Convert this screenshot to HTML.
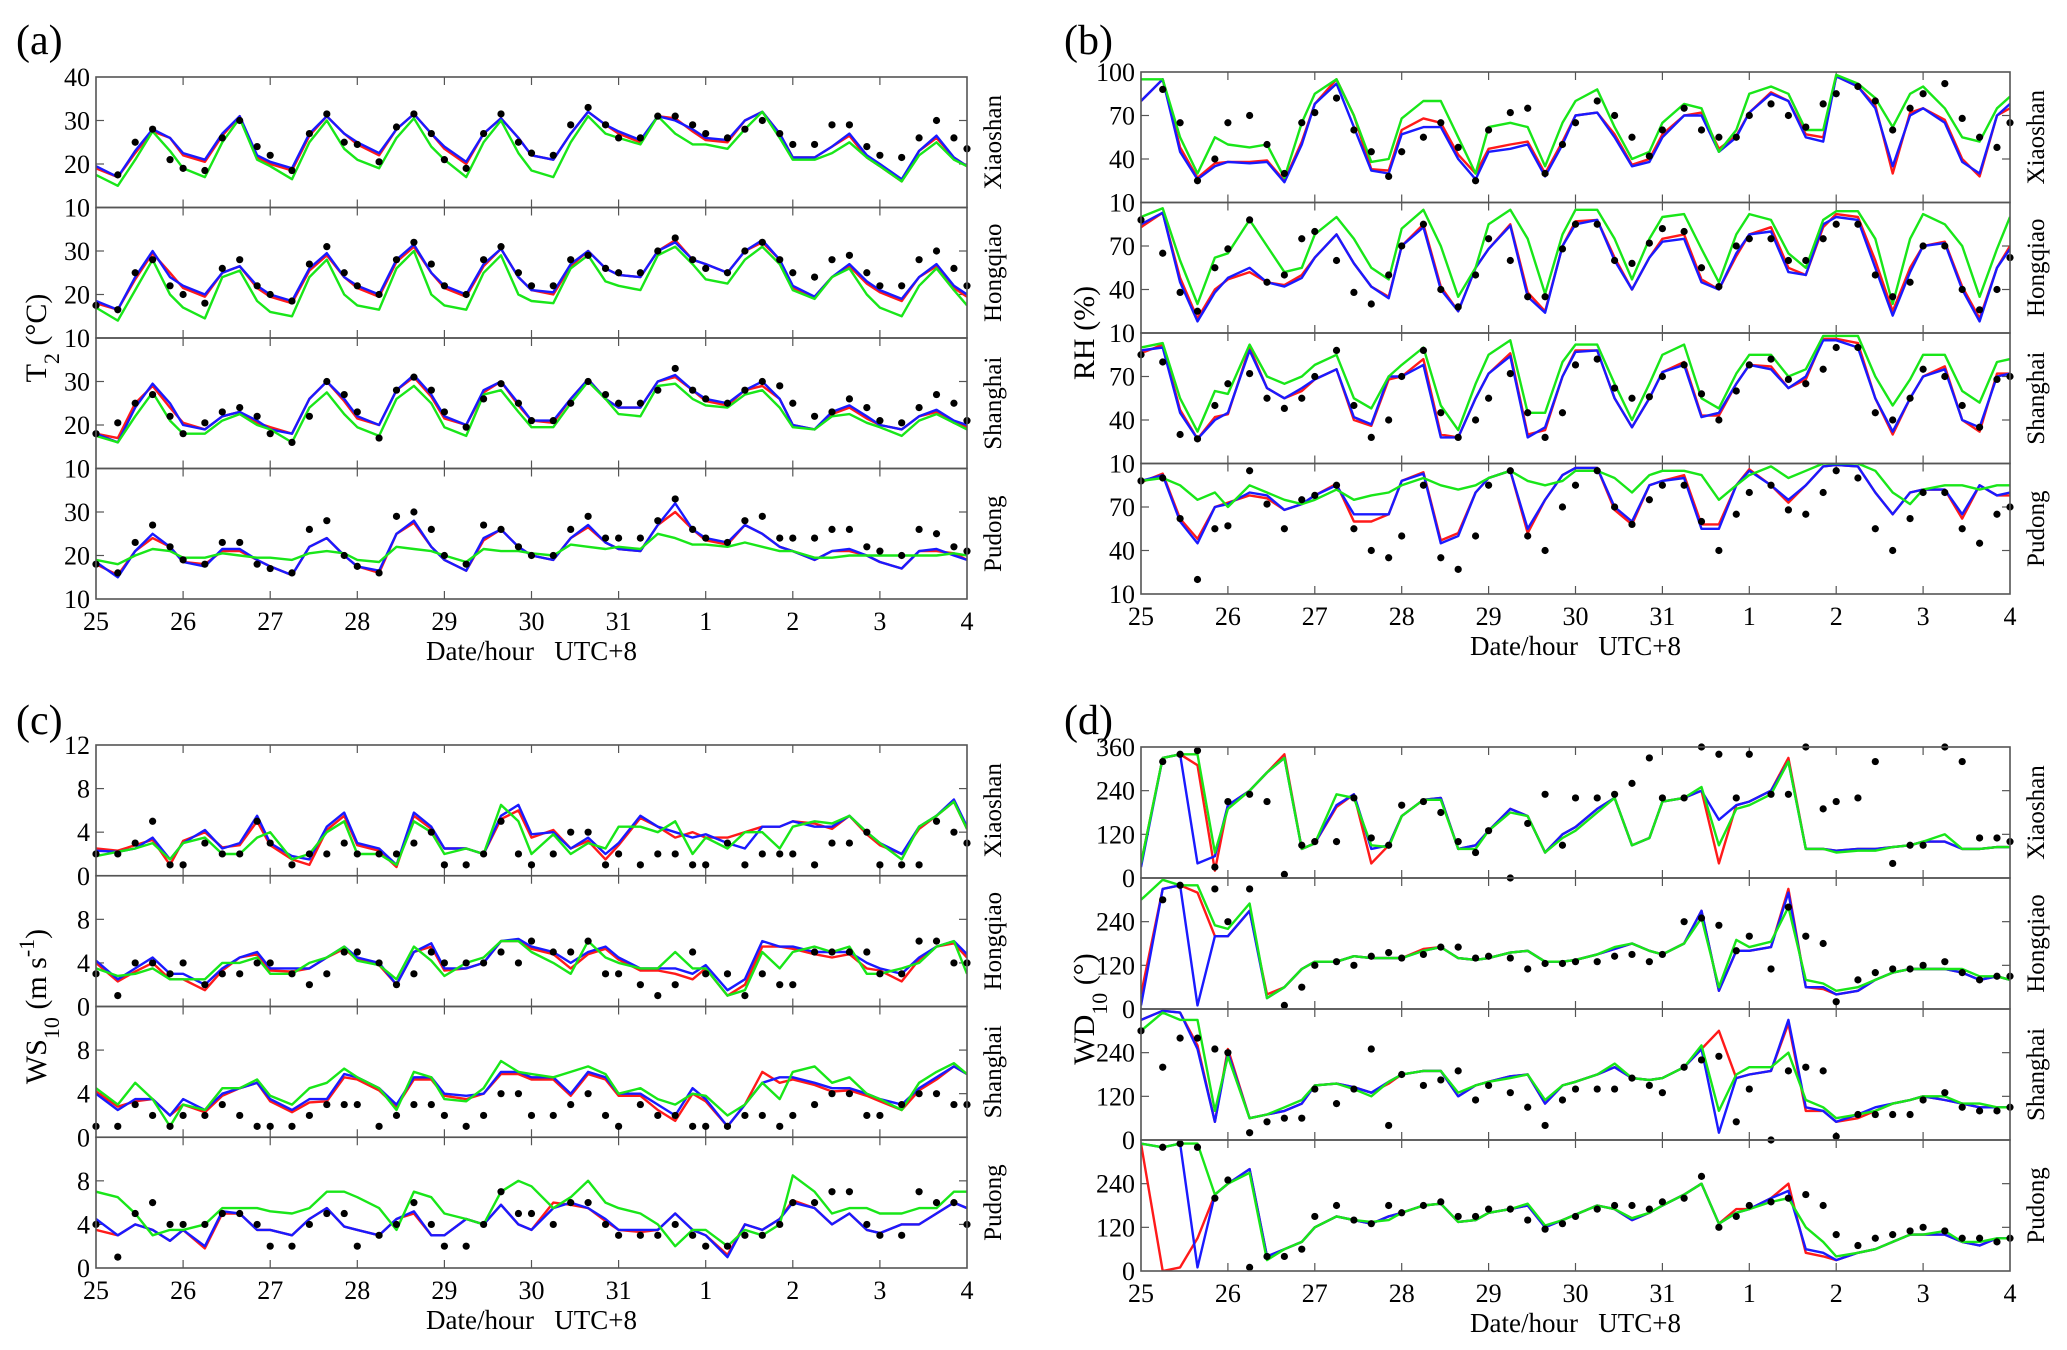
<!DOCTYPE html>
<html><head><meta charset="utf-8"><style>
body{margin:0;background:#fff;}
svg{display:block;}
svg text{font-family:"Liberation Serif","Times New Roman",serif;}
</style></head><body>
<svg id="fig" width="2067" height="1350" viewBox="0 0 2067 1350" font-family="Liberation Serif, serif"></svg>
<script>
// ---------- shared axis data ----------
const dayLabels = ['25','26','27','28','29','30','31','1','2','3','4'];
const dayPhase = [0,0.25,0.45,0.65,0.85];
const stationNames = ['Xiaoshan','Hongqiao','Shanghai','Pudong'];

// ---------- (a) T2 ----------
const tTicks = [10,20,30,40];
const tXsB=[19.5,17,23,28,26,22.5,21,27,31,22,20.5,19,27,31,27,25,22.5,28,31.5,27,24,20.5,27,30.5,26,22,21,27,32,29,27.5,25.5,31,30,28,26,25.5,30,32,27,21.5,21.5,24,27,22,20,16.5,23,26.5,21.5,19.5];
const tXsR=[19,17,22.5,27.5,26,22,20.5,26.5,31,21.5,20,18.5,26.5,31,27,24.5,22,28,31.5,27,23.5,20,27,30.5,26,22,21,27,32,29,27,25,31,30.5,27.5,25.5,25,30,32,27,21.5,21.5,24,26.5,21.5,19.5,16,23,26,21.5,19.5];
const tXsG=[17.5,15,21,27.5,23,19,17,25,30.5,21,19.5,16.5,25,30,23.5,21,19,26,30.5,24,21,17,25,30,22.5,18.5,17,25,31,27,26,24.5,31,27,24.5,24.5,23.5,28,32,26,21,21,22.5,25,21.5,19.5,16,22,25,21,19.5];
const tXsO=[null,17.5,25,28,21,19,18.5,26,30,24,22,18.5,27,31.5,25,24.5,20.5,28.5,31.5,27,21,19,27,31.5,25,22.5,22,29,33,29,26,26,31,31,29,27,26,28,30,27,24.5,24.5,29,29,24,22,21.5,26,30,26,23.5];
const tHqB=[18.5,16.5,24,30,24,22,20,25,26.5,22,20,18.5,26,29.5,24,22,20,28,31.5,25,22,20,27,30.5,24,21,20.5,27,30,26,24.5,24,30,32,28,27,25,30,32.5,28,22,19.5,24,27,23,21,19,24,27,22,20];
const tHqR=[18,16.5,23.5,29.5,25,21.5,19.5,25,26.5,21.5,19.5,18,25.5,29,24,21.5,19.5,27.5,31,25,21.5,19.5,26.5,30.5,24,21,20,26.5,30,26,24.5,24,30,32.5,28,27,25,30,32,28,21.5,19.5,24,26.5,22.5,20.5,18.5,24,26.5,21.5,19.5];
const tHqG=[17,14,21,28,20,17,14.5,24,25.5,18.5,16,15,24,28,20,17.5,16.5,26,30,20,17.5,16.5,25,29,20,18.5,18,26,29,23,22,21,29,31,27,23.5,22.5,28,31,27,21,19,24,26,20,17,15,22,26,21,17.5];
const tHqO=[17.5,16.5,25,28,22,20,18,26,28,22,20,18.5,27,31,25,22,20,28,32,27,22,20,28,31,25,22,22,28,29,26,25,25,30,33,28,26,25,30,32,28,25,24,28,29,25,22,22,28,30,26,22];
const tShB=[18,16,24,29.5,25,20,19,22,23,21,19,18,26,30,26,22,20,28,31.5,27,22,20,28,30,25,21,21,26,30.5,26,24,24,30,31.5,28,26,25,28,30,26,20,19,23,24.5,22,20,19,22,23.5,21,20];
const tShR=[18,17,25,29,24,20.5,19,22,23,20.5,19.5,18,26,30,25.5,21.5,20,28,31,26.5,21.5,20,27.5,30,24.5,21,20.5,26,30.5,26,24,24,30,31,28,25.5,24.5,28,29,26,20,19,22.5,24,21.5,20,19,22,23,20.5,19.5];
const tShG=[17.5,16,22,27.5,21,18,18,21,22.5,20,19,16,24,27.5,22.5,19.5,17.5,26,29,25,19.5,17.5,27,28,23,19.5,19.5,25,30,26,22.5,22,29,29.5,26,24.5,24,27,28,24,19.5,19,22,22.5,20.5,19.5,17.5,21,22.5,20.5,19];
const tShO=[18,20.5,25,27,22,18,20.5,23,24,22,18,16,22,30,27,23,17,28,31,28,23,19.5,26,29.5,25,21,21,25,30,27,25,25,28,33,28,26,25,28,30,29,25,22,23,26,24,21,20.5,24,27,25,21];
const tPdB=[18.5,15,21,25,22,18.5,17.5,21.5,21.5,19,17.5,15.5,22,24,20,17.5,16.5,25,28,22,19,16.5,24,26,22,20,19,24,27,23,21.5,21,27,32,26,24,23,27,25,22,21,19,21,21.5,20,18.5,17,21,21.5,20,19];
const tPdR=[18,15.5,21,24,22,18.5,18,21,21,19,17.5,15.5,22,24,20,17.5,16,25,27.5,22,19,16.5,23.5,26,22,20,19,24,26.5,23,21.5,21,27,30,26,23.5,22.5,27,25,22,21,19,21,21,20,18.5,17,21,21,20.5,19];
const tPdG=[19,18,20,21.5,21,19.5,19.5,20.5,20,19.5,19.5,19,20.5,21,20.5,19,18.5,22,21.5,21,20,18.5,21.5,21,21,20.5,20,22.5,22,21.5,22,21.5,25,24,22.5,22.5,22,23,22,21,21,19.5,19.5,20,20,20,20,20,20,20.5,20];
const tPdO=[18,16,23,27,22,19,18,23,23,18,17,16,26,28,20,17.5,16,29,30,26,20,18,27,26,22,20,20,26,29,24,24,24,28,33,26,24,23,28,29,24,24,24,26,26,22,21,20,26,25,22,21];

// ---------- (b) RH ----------
const rhTicks = [10,40,70,100];
const rXsB=[80,95,45,26,35,38,37,38,24,50,78,92,62,32,30,57,62,62,40,26,45,47,50,28,50,70,72,55,35,38,55,70,70,45,55,72,85,80,55,52,97,90,75,35,70,75,65,38,30,70,78];
const rXsR=[80,95,48,27,37,38,38,39,25,52,78,95,70,33,32,60,68,65,43,30,47,50,52,30,52,70,72,57,36,40,57,70,72,47,56,72,86,80,57,55,97,90,77,30,72,75,67,40,28,70,75];
const rXsG=[95,95,55,30,55,50,48,50,27,65,85,95,70,38,40,68,80,80,55,30,62,65,62,35,65,80,88,62,40,45,65,78,75,45,60,85,90,85,60,60,98,92,82,62,85,90,75,55,52,75,83];
const rXsO=[null,88,65,25,40,65,70,50,30,65,72,82,60,45,28,45,55,65,48,25,60,72,75,30,50,65,80,70,55,42,60,75,60,55,55,70,78,70,62,78,85,90,80,60,75,85,92,68,55,48,65];
const rHqB=[85,93,45,18,38,48,55,45,42,48,62,78,58,42,34,70,83,40,25,55,68,84,35,24,70,85,88,60,40,62,73,75,45,40,65,78,80,52,50,85,90,88,55,22,52,70,72,40,18,55,68];
const rHqR=[83,93,48,20,40,47,52,45,43,50,62,78,58,42,35,70,85,42,25,55,68,85,38,25,70,87,88,62,40,62,75,78,47,40,63,78,83,55,50,83,92,90,60,25,55,70,73,42,20,55,70];
const rHqG=[90,96,60,30,62,65,88,70,52,55,78,90,75,55,47,82,95,70,35,55,85,95,75,37,78,95,95,75,47,75,90,92,68,45,78,92,88,65,55,88,94,94,75,30,75,92,85,70,35,68,90];
const rHqO=[88,65,38,25,55,68,88,45,50,75,80,60,38,30,50,70,85,40,28,50,75,60,35,35,68,85,85,60,58,72,82,80,55,42,70,75,75,60,60,75,85,85,50,35,45,70,70,40,26,40,62];
const rShB=[88,90,45,27,40,45,88,62,55,62,68,75,42,37,70,70,78,28,28,55,72,84,28,35,70,87,88,55,35,55,73,78,42,45,65,78,75,62,70,95,95,90,55,32,55,70,75,40,35,70,72];
const rShR=[86,92,47,27,42,44,90,62,55,60,68,75,40,36,68,70,82,30,28,55,72,86,30,33,70,88,88,55,35,55,73,80,43,43,65,78,77,62,68,96,96,93,55,30,55,70,77,40,32,72,72];
const rShG=[90,93,55,32,60,58,92,70,65,70,78,85,55,48,70,78,90,50,33,65,85,95,45,45,80,92,92,65,40,65,85,92,55,48,72,85,85,70,75,98,98,98,70,50,68,85,85,60,52,80,82];
const rShO=[85,80,30,27,50,65,72,55,48,55,70,88,50,28,40,70,88,45,28,40,55,72,45,28,45,78,82,62,55,56,70,78,58,40,60,78,82,68,65,75,90,90,45,40,55,75,70,50,35,68,70];
const rPdB=[88,92,60,45,70,72,80,78,68,72,78,85,65,65,65,88,93,45,50,80,90,95,55,75,92,97,97,70,60,85,88,90,55,55,85,95,85,75,85,98,99,98,80,65,80,82,82,65,85,78,80];
const rPdR=[87,93,62,48,70,73,78,76,68,72,78,86,60,60,65,88,94,47,52,80,90,95,52,75,92,97,97,68,58,85,88,92,58,58,85,96,85,73,85,98,99,98,80,65,80,82,82,62,85,78,78];
const rPdG=[88,90,85,75,80,70,85,80,75,72,75,82,75,78,80,85,90,85,82,85,90,95,88,85,88,95,95,90,80,92,95,95,92,75,85,92,98,90,95,100,100,100,95,80,72,82,85,85,82,85,85];
const rPdO=[88,90,62,20,55,57,95,72,55,75,78,85,55,40,35,50,85,35,27,50,85,95,50,40,70,85,95,70,58,75,85,85,60,40,65,80,85,68,65,80,95,90,55,40,62,80,80,55,45,65,70];

// ---------- (c) WS10 ----------
const wsTicks = [0,4,8,12];
const sXsB=[2.3,2.2,2.5,3.5,1.5,3,4.2,2.5,3,5.5,3,1.8,1.5,4.5,5.8,3,2.5,1,5.8,4.5,2.5,2.5,2,5.5,6.5,3.8,4,2.5,3.5,2,3,5.5,4.5,4,3.5,3.8,3,2.5,4.5,4.5,5,4.5,4.5,5.5,4,3,2,4.5,5.5,7,4.5];
const sXsR=[2.5,2.3,2.8,3.3,1,3.2,4,2.6,2.8,5,2.8,1.5,1,4.2,5.5,2.8,2.3,0.8,5.5,4.3,2.5,2.5,2,5.2,6,3.5,4.2,2.5,3.2,1.5,2.8,5.3,4.5,3.5,4,3.5,3.5,4,4.5,4.5,5,4.8,4.3,5.5,3.8,2.8,2,4.3,5.5,6.8,4.3];
const sXsG=[1.8,2.2,2.5,3,1.5,3,3.5,2,2,3.5,4,1.5,2,4,5,2,2,1,5,4,2,2.5,2,6.5,5,2,3.8,2,3,2.5,4.5,4.5,4,5,2,3.5,2.5,4,4,2.5,4.5,5,4.8,5.5,4,3,1.5,4.5,5.5,6.8,4.3];
const sXsO=[2,2,3,5,1,1,3,2,2,5,3,1,2,2,3,2,2,2,3,4,1,1,2,5,2,1,2,4,4,1,2,1,2,2,1,1,3,1,2,2,2,1,3,3,4,1,1,1,5,4,3];
const sHqB=[4.2,2.5,3.5,4.5,3,3,2,3.5,4.5,5,3.5,3.5,3.5,4.5,5.5,4.5,4,2,5,5.8,3.5,3.5,4,6,6.2,5.5,5,4,5,5.5,4.5,3.5,3.5,3.5,3,3.8,1.5,2.5,6,5.5,5.5,5,5,5,4,3.5,3,4.5,5.5,6,4.8];
const sHqR=[4,2.3,3.2,4,2.5,2.5,1.5,3.3,4.5,4.8,3.3,3.2,3.5,4.5,5.3,4.3,3.8,2,5,5.5,3.3,3.5,4,6,6,5.3,4.8,3.5,4.8,5.3,4.3,3.3,3.3,3,2.5,3.5,1,2,5.5,5.5,5.3,4.8,4.5,4.8,3.5,3.3,2.3,4.3,5.5,5.8,4.5];
const sHqG=[3.5,2.8,3,3.5,2.5,2.5,2.5,4,4,4.5,3,3,4,4.5,5.5,4.2,3.8,2.5,5.5,4.2,2.8,4,4.5,6,6,5,4,3,6,4.5,4,3.5,3.5,5,3.5,3.5,1,1.5,5,3.5,5,5.5,5,5.5,3,3,3.5,4,5.5,6,3];
const sHqO=[3,1,4,4,3,4,2,3,3,4,4,3,2,3,5,5,4,2,3,5,4,4,4,5,4,6,5,5,6,3,3,2,1,2,5,3,3,1,3,2,2,5,5,5,5,3,3,6,6,4,4];
const sShB=[4,2.5,3.5,3.5,2,3.5,2.5,4,4.5,5,3.5,2.5,3.5,3.5,5.8,5.5,4.5,3,5.5,5.5,4,3.8,4,6,6,5.5,5.5,4,6,5.5,4,4,3,2,4.5,3.5,1,3,5,5.5,5.5,5,4.5,4.5,4,3.5,3,4.5,5.5,6.5,5.8];
const sShR=[4.2,2.8,3.3,3.5,2,3,2.3,3.8,4.5,5,3.3,2.3,3.2,3.3,5.5,5.3,4.3,2.8,5.3,5.3,3.8,3.5,4,5.8,5.8,5.3,5.3,3.8,5.8,5.3,3.8,3.8,2.5,1.5,4,3.3,1,3,6,5,5.3,4.8,4.2,4.3,3.8,3.3,2.5,4.3,5.3,6.5,5.8];
const sShG=[4.5,3,5,3.5,1,3,2.5,4.5,4.5,5.3,3.8,3,4.5,5,6.3,5.5,4.5,2.5,6,5.5,3.5,3.3,4.5,7,6,5.8,5.5,6,6.5,5.8,4,4.5,3.5,3,4,3.8,2,3,5,3.5,6,6.5,5,5.5,4,3.5,2.5,5,6,6.8,5.8];
const sShO=[1,1,3,2,1,2,2,3,2,1,1,1,2,3,3,3,1,2,3,3,2,1,2,4,4,2,2,3,4,2,1,3,2,2,1,1,1,2,2,1,2,3,4,4,2,2,3,4,4,3,3];
const sPdB=[4.5,3,4,3.5,2.5,3.5,2,5.2,5,3.5,3.5,3,4.5,5.5,3.8,3.5,3,4.5,5.2,3,3,4.5,4,5.8,4,3.5,5.5,6,5.5,4.5,3.5,3.5,3.5,5,3.5,3,1,4,3.5,4.5,6,5.5,4,5,3.5,3.2,4,4,5,6,5.5];
const sPdR=[3.5,3,4,3.5,2.5,3.5,1.8,5,5,3.5,3.5,3,4.5,5.5,3.8,3.5,3,4.5,5,3,3,4.5,4,5.8,4,3.5,6,5.8,5.5,4.3,3.5,3.3,3.5,5,3.5,3,1.2,4,3.5,4.5,6.2,5.5,4,5,3.5,3.2,4,4,5,6,5.5];
const sPdG=[7,6.5,5,3,3.5,3.5,4,5.5,5.5,5.5,5.2,5,5.5,7,7,6.5,5.5,3.5,7,6.5,5,4.5,4,7,8,7.5,5.5,6.5,8,6,5.5,5,4,2,3.5,3.5,2,3.5,3,4,8.5,7,5,5.5,5.5,5,5,5.5,5.5,7,7];
const sPdO=[4,1,5,6,4,4,4,5,5,4,2,2,4,5,5,2,3,4,6,4,2,2,4,7,5,5,4,6,6,4,3,3,3,4,3,2,2,3,3,4,6,6,7,7,4,3,3,7,6,6,4];

// ---------- (d) WD10 ----------
const wdTicks = [0,120,240,360];
const dXsB=[30,330,340,40,60,200,240,290,330,80,95,200,230,80,90,170,215,220,80,90,130,190,170,70,120,140,190,220,90,110,210,220,240,160,200,210,240,320,80,80,75,80,80,85,90,100,100,80,80,85,85];
const dXsR=[40,330,340,310,20,200,240,290,340,80,95,195,230,40,90,170,215,220,80,90,130,190,170,70,120,140,190,220,90,110,210,220,240,40,200,210,240,330,80,80,75,80,80,85,90,100,100,80,80,85,85];
const dXsG=[40,330,340,340,70,190,240,290,330,80,95,230,220,90,85,170,215,215,80,80,130,180,170,70,110,130,180,220,90,110,210,220,250,90,190,200,230,320,80,80,70,75,75,85,90,100,120,80,80,85,85];
const dXsO=[null,320,340,350,30,210,230,210,10,90,100,100,220,110,90,200,210,180,100,70,130,0,150,230,90,220,220,230,260,330,220,220,360,340,220,340,230,230,360,190,210,220,320,40,90,90,360,320,110,110,100];
const dHqB=[10,330,340,10,200,200,270,30,60,110,130,130,145,140,140,140,160,170,140,135,140,155,160,130,130,135,150,165,180,160,150,180,270,50,160,160,170,320,60,60,40,50,80,100,110,110,110,100,80,90,80];
const dHqR=[40,330,340,320,200,200,270,40,60,110,130,130,145,140,140,140,165,170,140,135,140,155,160,130,130,135,150,165,180,160,150,180,270,50,160,160,170,330,60,55,40,50,80,100,110,110,110,100,80,90,80];
const dHqG=[300,355,340,340,230,220,290,30,60,110,130,130,145,140,140,140,160,170,140,135,140,155,160,130,130,135,150,170,180,160,150,180,250,60,190,170,185,280,80,70,50,60,80,100,110,110,110,110,90,90,80];
const dHqO=[null,300,340,null,330,240,330,null,10,60,120,130,120,145,155,140,150,170,170,140,145,140,110,125,125,130,130,145,150,130,150,240,250,230,160,200,110,280,200,180,20,80,100,110,110,120,130,100,80,90,90];
const dShB=[330,355,350,250,50,240,60,70,80,100,150,155,145,130,160,180,190,190,120,150,160,175,180,100,150,160,180,200,170,165,170,200,250,20,170,180,190,330,90,80,50,70,90,100,110,120,110,100,90,90,90];
const dShR=[330,355,350,260,50,250,60,70,80,100,150,155,145,130,155,180,190,190,120,150,160,175,180,100,150,160,180,200,170,165,170,200,250,300,170,180,190,320,80,80,50,60,80,100,110,120,110,100,90,90,90];
const dShG=[300,350,330,330,80,230,60,70,90,110,150,155,140,120,160,180,190,190,130,150,160,170,180,110,150,160,180,210,170,165,170,200,260,80,180,200,200,240,110,90,60,70,80,100,110,120,120,100,100,90,90];
const dShO=[300,200,280,280,250,240,20,50,60,60,140,100,140,250,40,180,150,165,190,110,150,130,90,40,110,140,140,140,170,150,130,200,220,230,50,140,0,190,200,190,10,70,70,70,70,110,130,90,80,80,90];
const dPdB=[350,340,350,10,210,240,280,40,60,80,120,150,140,130,150,160,180,185,135,140,160,170,180,120,140,155,180,170,140,160,180,210,240,130,160,170,200,220,60,50,30,50,60,80,100,100,100,80,70,90,90];
const dPdR=[350,0,10,90,210,240,280,40,60,80,120,150,140,130,150,160,180,185,135,140,160,170,180,120,140,155,180,170,140,160,180,210,240,130,170,170,200,240,50,40,30,50,60,80,100,100,100,80,70,90,90];
const dPdG=[350,340,350,350,210,240,270,30,60,80,120,150,140,135,140,160,180,185,135,140,160,170,185,125,140,155,180,170,145,160,180,210,240,130,160,170,190,200,120,80,40,50,60,80,100,100,110,80,80,90,90];
const dPdO=[null,340,350,340,200,250,10,40,40,60,150,180,140,130,180,160,180,190,150,150,170,170,140,115,130,150,170,180,180,170,190,200,260,120,150,180,190,200,210,180,100,70,90,100,110,120,110,90,90,80,90];

// ---------- panel layout ----------
const panels = [
 {id:'a',label:'(a)',lx:16,ly:54,x0:96,x1:967,y0:77,h:130.5,ymin:10,ymax:40,ticks:tTicks,title:['T','2',' (°C)'],tx:36,
  series:[[tXsR,tXsB,tXsG,tXsO],[tHqR,tHqB,tHqG,tHqO],[tShR,tShB,tShG,tShO],[tPdR,tPdB,tPdG,tPdO]]},
 {id:'b',label:'(b)',lx:1064,ly:54,x0:1141,x1:2010,y0:72,h:130.5,ymin:10,ymax:100,ticks:rhTicks,title:['RH (%)','',''],tx:1084,
  series:[[rXsR,rXsB,rXsG,rXsO],[rHqR,rHqB,rHqG,rHqO],[rShR,rShB,rShG,rShO],[rPdR,rPdB,rPdG,rPdO]]},
 {id:'c',label:'(c)',lx:16,ly:734,x0:96,x1:967,y0:745,h:130.75,ymin:0,ymax:12,ticks:wsTicks,title:['WS','10',' (m s','-1',')'],tx:36,
  series:[[sXsR,sXsB,sXsG,sXsO],[sHqR,sHqB,sHqG,sHqO],[sShR,sShB,sShG,sShO],[sPdR,sPdB,sPdG,sPdO]]},
 {id:'d',label:'(d)',lx:1064,ly:734,x0:1141,x1:2010,y0:747,h:131,ymin:0,ymax:360,ticks:wdTicks,title:['WD','10',' (°)'],tx:1084,
  series:[[dXsR,dXsB,dXsG,dXsO],[dHqR,dHqB,dHqG,dHqO],[dShR,dShB,dShG,dShO],[dPdR,dPdB,dPdG,dPdO]]}
];
const seriesColors = ['#ff1a1a','#1a1aff','#19e619'];
const seriesNames = ['red-model-line','blue-model-line','green-model-line'];
const FONT='Liberation Serif, Times New Roman, serif';

const NS='http://www.w3.org/2000/svg';
const svg=document.getElementById('fig');
function mk(tag,attrs,parent){const e=document.createElementNS(NS,tag);for(const k in attrs)e.setAttribute(k,attrs[k]);if(tag==='text')e.setAttribute('font-family',FONT);(parent||svg).appendChild(e);return e;}

const defs=mk('defs',{});
panels.forEach(p=>{
  const g=mk('g',{});
  
  
  const nDays=dayLabels.length-1;
  const xs=t=>p.x0+(p.x1-p.x0)*t/nDays;
  const yb=p.y0+4*p.h;
  const lab=mk('text',{x:p.lx,y:p.ly,'font-size':42,fill:'#000'},g);lab.textContent=p.label;
  
  
  for(let s=0;s<4;s++){
    const top=p.y0+s*p.h, bot=top+p.h;
    const ys=v=>top+p.h*(p.ymax-v)/(p.ymax-p.ymin);
    const sg=mk('g',{},g);
    
    
    const cid='clip'+p.id+s;
    const cp=mk('clipPath',{id:cid},defs);mk('rect',{x:p.x0,y:top,width:p.x1-p.x0,height:p.h},cp);
    for(let d=1;d<nDays;d++){
      const x=xs(d);
      mk('line',{x1:x,y1:top,x2:x,y2:top+8,stroke:'#555','stroke-width':1.2},sg);
      mk('line',{x1:x,y1:bot,x2:x,y2:bot-8,stroke:'#555','stroke-width':1.2},sg);
    }
    p.ticks.forEach((tv,i)=>{
      const y=ys(tv);
      if(i>0&&i<p.ticks.length-1){
        mk('line',{x1:p.x0,y1:y,x2:p.x0+8,y2:y,stroke:'#555','stroke-width':1.2},sg);
        mk('line',{x1:p.x1,y1:y,x2:p.x1-8,y2:y,stroke:'#555','stroke-width':1.2},sg);
      }
      if(i===p.ticks.length-1 && s>0) return;
      const t=mk('text',{x:p.x0-6,y:y+9,'font-size':26,'text-anchor':'end',fill:'#000'},sg);
      t.textContent=tv;
      
      
    });
    const lg=mk('g',{'clip-path':'url(#'+cid+')'},sg);
    const ser=p.series[s];
    for(let k=0;k<3;k++){
      const arr=ser[k];let dstr='';
      arr.forEach((v,i)=>{if(v===null)return;const t=Math.floor(i/5)+dayPhase[i%5];dstr+=(dstr?'L':'M')+xs(t).toFixed(1)+' '+ys(v).toFixed(1);});
      const pl=mk('path',{d:dstr,fill:'none',stroke:seriesColors[k],'stroke-width':2.4,'stroke-linejoin':'round'},lg);
      
      
    }
    ser[3].forEach((v,i)=>{
      if(v===null)return;const t=Math.floor(i/5)+dayPhase[i%5];
      const c=mk('circle',{cx:xs(t),cy:ys(v),r:3.6,fill:'#000'},sg);
      
      
    });
    mk('rect',{x:p.x0,y:top,width:p.x1-p.x0,height:p.h,fill:'none',stroke:'#555','stroke-width':1.6},sg);
    const st=mk('text',{x:0,y:0,'font-size':25,'text-anchor':'middle',fill:'#000',transform:'translate('+(p.x1+34)+','+(top+p.h/2)+') rotate(-90)'},sg);
    st.textContent=stationNames[s];
    
    
  }
  dayLabels.forEach((dl,d)=>{
    const t=mk('text',{x:xs(d),y:yb+31,'font-size':26,'text-anchor':'middle',fill:'#000'},g);
    t.textContent=dl;
    
    
  });
  const xt=mk('text',{x:(p.x0+p.x1)/2,y:yb+61,'font-size':27,'text-anchor':'middle',fill:'#000',style:'white-space:pre'},g);
  xt.textContent='Date/hour\u00a0\u00a0\u00a0UTC+8';
  
  
  const yt=mk('text',{x:0,y:0,'font-size':30,'text-anchor':'middle',fill:'#000',style:'white-space:pre',transform:'translate('+(p.tx+10)+','+(p.y0+2*p.h)+') rotate(-90)'},g);
  
  
  p.title.forEach((part,i)=>{
    if(part==='')return;
    const ts=mk('tspan',{},yt);
    if(i%2===1){ts.setAttribute('baseline-shift',i===3?'super':'sub');ts.setAttribute('font-size',22);}
    ts.textContent=part.replace(/ /g,'\u00a0');
  });
});
</script>
</body></html>
